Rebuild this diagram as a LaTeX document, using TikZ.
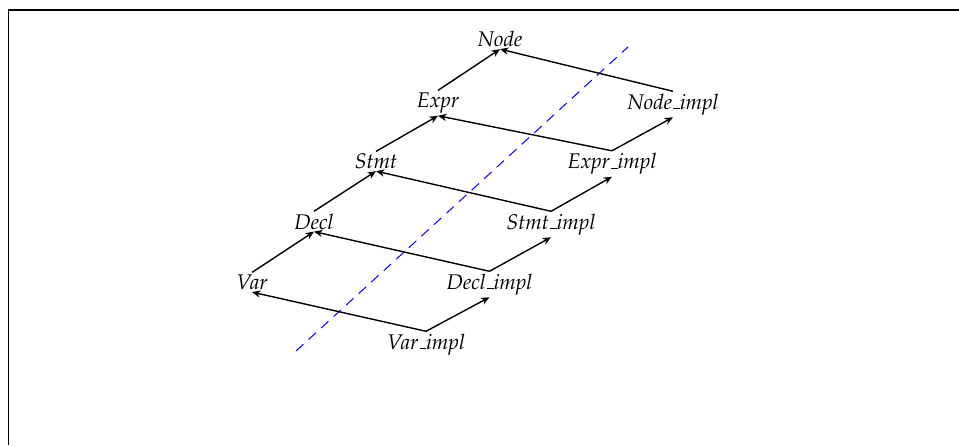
\documentclass[tikz,border=0pt]{standalone}
\usepackage[T1]{fontenc}
\usepackage{mathpazo}
\usetikzlibrary{arrows.meta}
\newcommand{\usc}{\leavevmode\kern.06em\vbox{\hrule width.3em}}
\begin{document}
\begin{tikzpicture}[x=0.5pt,y=-0.5pt,
  lbl/.style={anchor=base,inner sep=1pt,font=\fontsize{10.6}{12}\selectfont\itshape},
  arr/.style={-{Stealth[length=4.2pt,width=3.6pt,inset=1.3pt]},line width=0.7pt},
  sep/.style={blue,dash pattern=on 5pt off 3.5pt,line width=0.5pt}]
\useasboundingbox (0,0) rectangle (959,445);
\draw[line width=0.8pt] (8.3,445) -- (8.3,9.7) -- (959,9.7);
% left column
\node[lbl] (node) at (500,46.5) {Node};
\node[lbl] (expr) at (438,107.5) {Expr};
\node[lbl] (stmt) at (376,168.5) {Stmt};
\node[lbl] (decl) at (314,229) {Decl};
\node[lbl] (var)  at (252,289.5) {Var};
% right column
\node[lbl] (nodei) at (673,109) {Node\usc impl};
\node[lbl] (expri) at (612,168.5) {Expr\usc impl};
\node[lbl] (stmti) at (551,229) {Stmt\usc impl};
\node[lbl] (decli) at (489.5,289) {Decl\usc impl};
\node[lbl] (vari)  at (426,349) {Var\usc impl};
% separator
\coordinate (s1) at (296,351);
\coordinate (s2) at (628,47);
\draw[sep] (s1) -- (s2);
% left chain
\draw[arr] (var.north) -- (decl.south);
\draw[arr] (decl.north) -- (stmt.south);
\draw[arr] (stmt.north) -- (expr.south);
\draw[arr] (expr.north) -- (node.south);
% right chain
\draw[arr] (vari.north) -- (decli.south);
\draw[arr] (decli.north) -- (stmti.south);
\draw[arr] (stmti.north) -- (expri.south);
\draw[arr] (expri.north) -- (nodei.south);
% impl to interface
\draw[arr] (vari.north) -- (var.south);
\draw[arr] (decli.north) -- (decl.south);
\draw[arr] (stmti.north) -- (stmt.south);
\draw[arr] (expri.north) -- (expr.south);
\draw[arr] (nodei.north) -- (node.south);
\end{tikzpicture}
\end{document}
